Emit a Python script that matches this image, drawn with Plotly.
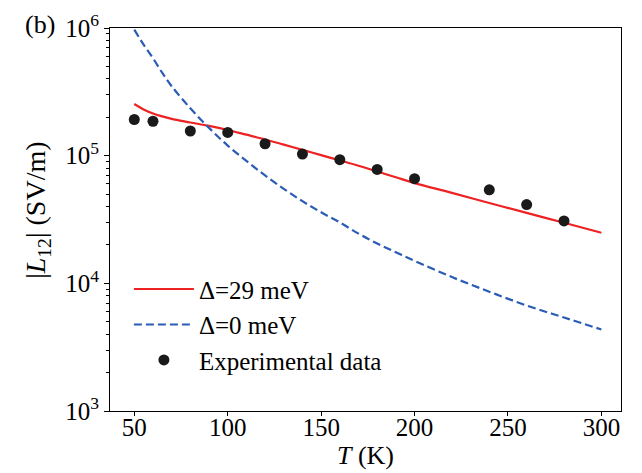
import plotly.graph_objects as go

# Model curves
T_model = [50, 55, 60, 65, 70, 80, 90, 100, 110, 120, 130, 140, 150, 160, 170, 180, 190, 200, 220, 240, 260, 280, 300]
# Delta = 29 meV
L12_gap29 = [2.54e5, 2.30e5, 2.14e5, 2.03e5, 1.94e5, 1.82e5, 1.71e5, 1.59e5, 1.46e5, 1.34e5, 1.22e5, 1.11e5,
             1.01e5, 9.18e4, 8.34e4, 7.52e4, 6.77e4, 6.10e4, 5.11e4, 4.26e4, 3.56e4, 2.98e4, 2.49e4]
# Delta = 0 meV
L12_gap0 = [9.7e5, 7.4e5, 5.8e5, 4.45e5, 3.5e5, 2.35e5, 1.65e5, 1.2e5, 9.1e4, 7.0e4, 5.5e4, 4.4e4, 3.6e4,
            3.0e4, 2.45e4, 2.05e4, 1.75e4, 1.5e4, 1.12e4, 8.6e3, 6.7e3, 5.4e3, 4.35e3]
# Experimental data
T_exp = [50, 60, 80, 100, 120, 140, 160, 180, 200, 240, 260, 280]
L12_exp = [1.92e5, 1.86e5, 1.56e5, 1.52e5, 1.24e5, 1.03e5, 9.3e4, 7.8e4, 6.6e4, 5.4e4, 4.14e4, 3.08e4]

x_ticks = [50, 100, 150, 200, 250, 300]
y_major = [1e3, 1e4, 1e5, 1e6]
y_major_text = ["10<sup>3</sup>", "10<sup>4</sup>", "10<sup>5</sup>", "10<sup>6</sup>"]
y_minor = [m * d for d in (1e3, 1e4, 1e5) for m in range(2, 10)]

FONT = "Liberation Serif, Times New Roman, serif"

fig = go.Figure()
fig.add_trace(go.Scatter(x=T_model, y=L12_gap29, mode="lines", name="Δ=29 meV",
                         line=dict(color="#ee2222", width=2.2, shape="spline")))
fig.add_trace(go.Scatter(x=T_model, y=L12_gap0, mode="lines", name="Δ=0 meV",
                         line=dict(color="#2a5cb5", width=2.2, dash="8px,4px", shape="spline")))
fig.add_trace(go.Scatter(x=T_exp, y=L12_exp, mode="markers", name="Experimental data",
                         marker=dict(color="#1a1a1a", size=11)))

fig.update_layout(
    width=642, height=473,
    margin=dict(l=102, r=29, t=20, b=70),
    paper_bgcolor="white", plot_bgcolor="white",
    font=dict(family=FONT, size=25, color="black"),
    showlegend=True,
    legend=dict(x=0.037, y=0.378, xanchor="left", yanchor="top",
                bgcolor="rgba(0,0,0,0)", font=dict(size=25), itemwidth=60),
    annotations=[
        dict(text="(b)", x=-0.17, y=1.008, xref="paper", yref="paper",
             xanchor="left", yanchor="middle", showarrow=False, font=dict(size=26)),
        dict(text="|<i>L</i><sub>12</sub>| (SV/m)", x=-0.141, y=0.525, xref="paper", yref="paper",
             xanchor="center", yanchor="middle", textangle=-90, showarrow=False, font=dict(size=28)),
    ],
)
fig.update_xaxes(range=[37, 310.5], tickmode="array", tickvals=x_ticks,
                 ticks="outside", ticklen=4, tickwidth=1, tickcolor="black",
                 ticklabelstandoff=-10,
                 showline=True, linecolor="black", linewidth=1, mirror=True,
                 showgrid=False, zeroline=False, automargin=False,
                 title=dict(text="<i>T</i> (K)", font=dict(size=26), standoff=0))
fig.update_yaxes(type="log", range=[3, 6], tickmode="array", tickvals=y_major, ticktext=y_major_text,
                 ticks="outside", ticklen=5, tickwidth=1, tickcolor="black",
                 minor=dict(tickmode="array", tickvals=y_minor, ticks="outside", ticklen=3,
                            tickcolor="black", tickwidth=1, showgrid=False),
                 showline=True, linecolor="black", linewidth=1, mirror=True,
                 showgrid=False, zeroline=False, automargin=False)

fig.write_html("out.html")
